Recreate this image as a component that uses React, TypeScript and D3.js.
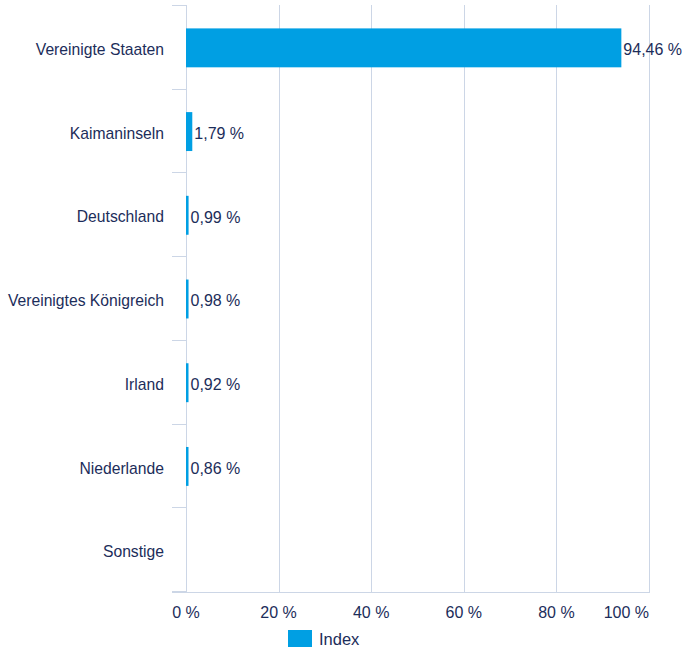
import React from "react";
import * as d3 from "d3";

const categories = [
  "Vereinigte Staaten",
  "Kaimaninseln",
  "Deutschland",
  "Vereinigtes Königreich",
  "Irland",
  "Niederlande",
  "Sonstige",
];
const values: (number | null)[] = [94.46, 1.79, 0.99, 0.98, 0.92, 0.86, null];
const xTicks = [0, 20, 40, 60, 80, 100];
const seriesName = "Index";

const W = 682;
const H = 650;
const left = 186;
const right = 649;
const top = 6;
const bottom = 592;
const textColor = "#1c2d5a";
const gridColor = "#ccd6e6";
const barColor = "#009fe3";
const font = "'Liberation Sans', Arial, Helvetica, sans-serif";

const fmt = (v: number) => v.toFixed(2).replace(".", ",") + " %";

export default function App() {
  const x = d3.scaleLinear().domain([0, 100]).range([left, right]);
  const y = d3.scaleBand<string>().domain(categories).range([top, bottom]).paddingInner(0.535).paddingOuter(0.2675);
  const band = (bottom - top) / categories.length;
  return (
    <svg width={W} height={H} style={{ position: "absolute", left: 0, top: 0 }} fontFamily={font}>
      {xTicks.map((t) => (
        <line key={"g" + t} x1={Math.round(x(t)) + 0.5} x2={Math.round(x(t)) + 0.5} y1={top - 1} y2={bottom} stroke={gridColor} strokeWidth={1} />
      ))}
      {d3.range(categories.length + 1).map((i) => (
        <line key={"t" + i} x1={172} x2={left} y1={Math.round(top + i * band) - 0.5} y2={Math.round(top + i * band) - 0.5} stroke={gridColor} strokeWidth={1} />
      ))}
      <line x1={172} x2={right + 1} y1={bottom + 0.5} y2={bottom + 0.5} stroke={gridColor} />
      {categories.map((c, i) => {
        const v = values[i];
        const yy = y(c)!;
        const cy = top + (i + 0.5) * band + 3;
        const w = v != null ? Math.max(2.5, x(v) - x(0) - 2) : 0;
        return (
          <g key={c}>
            <text x={164} y={cy} textAnchor="end" dominantBaseline="middle" fontSize={15.7} fill={textColor}>{c}</text>
            {v != null && (
              <>
                <rect x={x(0)} y={yy} width={w} height={y.bandwidth()} fill={barColor} />
                <text x={x(0) + w + 2} y={cy} dominantBaseline="middle" fontSize={16} fill={textColor}>{fmt(v)}</text>
              </>
            )}
          </g>
        );
      })}
      {xTicks.map((t, i) => (
        <text key={"l" + t} x={i === xTicks.length - 1 ? right : x(t)} y={618} textAnchor={i === xTicks.length - 1 ? "end" : "middle"} fontSize={16} fill={textColor}>{t} %</text>
      ))}
      <rect x={288} y={630} width={24} height={17} fill={barColor} />
      <text x={319} y={645} fontSize={16.5} fill={textColor}>{seriesName}</text>
    </svg>
  );
}
